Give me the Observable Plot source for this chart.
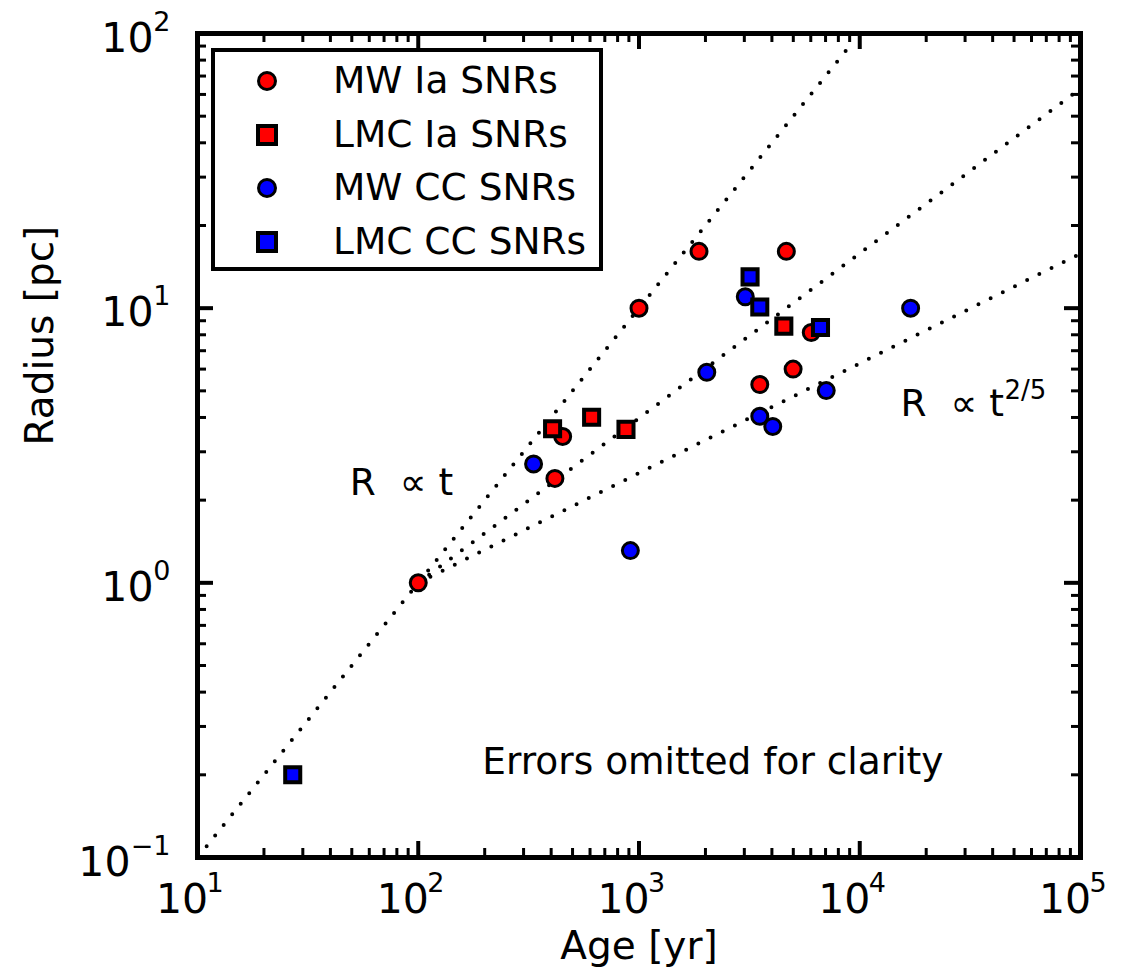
<!DOCTYPE html>
<html><head><meta charset="utf-8">
<script src="https://cdn.jsdelivr.net/npm/d3@7"></script>
<script src="https://cdn.jsdelivr.net/npm/@observablehq/plot@0.6"></script>
<style>
html,body{margin:0;padding:0;background:#fff;}
#wrap{position:relative;width:1128px;height:971px;font-family:"DejaVu Sans",sans-serif;}
#legend{position:absolute;left:211px;top:48px;width:392px;height:223px;box-sizing:border-box;border:4px solid #000;background:#fff;}
.mk{position:absolute;box-sizing:border-box;border-style:solid;border-color:#000;}
.lbl{position:absolute;left:118px;font-size:37.5px;line-height:1;transform:translateY(-50%);white-space:nowrap;color:#000;}
</style></head>
<body><div id="wrap"></div>
<script>
// ---------- data ----------
const mwIaAge    = [100, 1000, 1870, 4650, 451, 416, 6030, 4990, 3525];
const mwIaRadius = [1.0, 10.0, 16.1, 16.1, 3.41, 2.40, 8.15, 6.0, 5.27];
const lmcIaAge    = [406, 610, 873, 4530];
const lmcIaRadius = [3.64, 4.01, 3.62, 8.6];
const mwCCAge    = [333, 914, 3030, 17000, 2028, 7050, 3525, 4036];
const mwCCRadius = [2.71, 1.31, 11.0, 10.0, 5.84, 5.01, 4.04, 3.71];
const lmcCCAge    = [27, 3185, 3525, 6640];
const lmcCCRadius = [0.20, 13.0, 10.1, 8.5];

// guide lines (R ∝ t, R ∝ t^0.6, R ∝ t^2/5)
const lineLinearAge = [11, 9300],   lineLinearRadius = [0.11, 93];
const lineMidAge    = [100, 100000], lineMidRadius   = [1, 63];
const lineSedovAge  = [100, 100000], lineSedovRadius = [1, 15.8];

// ticks
const xMajor = [10, 100, 1000, 10000, 100000];
const xExp   = ["1", "2", "3", "4", "5"];
const yMajor = [0.1, 1, 10, 100];
const yExp   = ["\u22121", "0", "1", "2"];
const xMinor = []; for (let e = 1; e < 5; e++) for (let k = 2; k < 10; k++) xMinor.push(k * 10 ** e);
const yMinor = []; for (let e = -1; e < 2; e++) for (let k = 2; k < 10; k++) yMinor.push(+(k * 10 ** e).toPrecision(3));

// annotations
const noteText = ["R\u00a0 \u221d t", "Errors omitted for clarity"];
const noteAge = [49, 195];
const noteRadius = [2.08, 0.202];
const sedovNote = {label: "R\u00a0 \u221d t", sup: "2/5", age: 15300, radius: 4.06};

const legendLabels = ["MW Ia SNRs", "LMC Ia SNRs", "MW CC SNRs", "LMC CC SNRs"];
const legendColors = ["#ff0000", "#ff0000", "#0000ff", "#0000ff"];
const legendShapes = ["circle", "square", "circle", "square"];

// ---------- layout ----------
const W = 1128, H = 971, ML = 197, MR = 48, MT = 33, MB = 114;
const PW = W - ML - MR, PH = H - MT - MB;
const rec = (a, r) => a.map((v, i) => ({age: v, radius: r[i]}));
const dotted = {x: "age", y: "radius", stroke: "#000", strokeWidth: 4, strokeDasharray: "0 13.6", strokeLinecap: "round"};
const circ = (c) => ({x: "age", y: "radius", r: 8, symbol: "circle", fill: c, stroke: "#000", strokeWidth: 3});
const sq = (c) => ({x: "age", y: "radius", r: 8.5, symbol: "square", fill: c, stroke: "#000", strokeWidth: 4});
const id = d => d;

const chart = Plot.plot({
  width: W, height: H,
  marginLeft: ML, marginRight: MR, marginTop: MT, marginBottom: MB,
  style: {fontFamily: "DejaVu Sans", background: "#fff", color: "#000"},
  x: {type: "log", domain: [10, 100000], axis: null},
  y: {type: "log", domain: [0.1, 100], axis: null},
  marks: [
    Plot.line(rec(lineLinearAge, lineLinearRadius), dotted),
    Plot.line(rec(lineMidAge, lineMidRadius), dotted),
    Plot.line(rec(lineSedovAge, lineSedovRadius), dotted),
    Plot.dot(rec(mwIaAge, mwIaRadius), circ("#ff0000")),
    Plot.dot(rec(lmcIaAge, lmcIaRadius), sq("#ff0000")),
    Plot.dot(rec(mwCCAge, mwCCRadius), circ("#0000ff")),
    Plot.dot(rec(lmcCCAge, lmcCCRadius), sq("#0000ff")),
    // inward ticks, four sides
    Plot.ruleX(xMajor, {x: id, insetTop: PH - 16, stroke: "#000", strokeWidth: 4}),
    Plot.ruleX(xMajor, {x: id, insetBottom: PH - 16, stroke: "#000", strokeWidth: 4}),
    Plot.ruleX(xMinor, {x: id, insetTop: PH - 9, stroke: "#000", strokeWidth: 3}),
    Plot.ruleX(xMinor, {x: id, insetBottom: PH - 9, stroke: "#000", strokeWidth: 3}),
    Plot.ruleY(yMajor, {y: id, insetRight: PW - 16, stroke: "#000", strokeWidth: 4}),
    Plot.ruleY(yMajor, {y: id, insetLeft: PW - 16, stroke: "#000", strokeWidth: 4}),
    Plot.ruleY(yMinor, {y: id, insetRight: PW - 9, stroke: "#000", strokeWidth: 3}),
    Plot.ruleY(yMinor, {y: id, insetLeft: PW - 9, stroke: "#000", strokeWidth: 3}),
    Plot.frame({stroke: "#000", strokeWidth: 5}),
    // x tick labels
    Plot.text(xMajor, {x: id, frameAnchor: "bottom", text: () => "10", textAnchor: "end", lineAnchor: "bottom", dx: 10.6, dy: 55, fontSize: 41, fill: "#000"}),
    Plot.text(xMajor, {x: id, frameAnchor: "bottom", text: (d, i) => xExp[i], textAnchor: "start", lineAnchor: "bottom", dx: 9, dy: 34, fontSize: 27, fill: "#000"}),
    // y tick labels
    Plot.text(yMajor, {y: id, filter: d => d >= 1, frameAnchor: "left", text: () => "10", textAnchor: "end", lineAnchor: "bottom", dx: -44, dy: 18, fontSize: 41, fill: "#000"}),
    Plot.text(yMajor, {y: id, filter: d => d < 1, frameAnchor: "left", text: () => "10", textAnchor: "end", lineAnchor: "bottom", dx: -67, dy: 18, fontSize: 41, fill: "#000"}),
    Plot.text(yMajor, {y: id, frameAnchor: "left", text: (d, i) => yExp[i], textAnchor: "end", lineAnchor: "bottom", dx: -27, dy: -3, fontSize: 27, fill: "#000"}),
    // axis labels
    Plot.text(["Age [yr]"], {frameAnchor: "bottom", text: id, lineAnchor: "bottom", dy: 101, fontSize: 39, fill: "#000"}),
    Plot.text(["Radius [pc]"], {frameAnchor: "left", text: id, rotate: -90, lineAnchor: "bottom", dx: -145, fontSize: 39, fill: "#000"}),
    // annotations
    Plot.text(noteText.map((t, i) => ({t, age: noteAge[i], radius: noteRadius[i]})), {x: "age", y: "radius", text: "t", textAnchor: "start", lineAnchor: "bottom", fontSize: 37.5, fill: "#000"}),
    Plot.text([sedovNote], {x: "age", y: "radius", text: "label", textAnchor: "start", lineAnchor: "bottom", fontSize: 37.5, fill: "#000"}),
    Plot.text([sedovNote], {x: "age", y: "radius", text: "sup", textAnchor: "start", lineAnchor: "bottom", dx: 104, dy: -17, fontSize: 26, fill: "#000"})
  ]
});

const wrap = document.getElementById("wrap");
wrap.appendChild(chart);

// legend (inside axes, upper left)
const lg = document.createElement("div");
lg.id = "legend";
const rowY = [29, 83, 136, 190];
legendLabels.forEach((lab, i) => {
  const m = document.createElement("div");
  m.className = "mk";
  if (legendShapes[i] === "circle") {
    Object.assign(m.style, {width: "20px", height: "20px", left: "42px", top: (rowY[i] - 10) + "px", borderWidth: "3px", borderRadius: "50%", background: legendColors[i]});
  } else {
    Object.assign(m.style, {width: "22px", height: "22px", left: "41px", top: (rowY[i] - 11) + "px", borderWidth: "4px", background: legendColors[i]});
  }
  lg.appendChild(m);
  const t = document.createElement("div");
  t.className = "lbl";
  t.style.top = rowY[i] + "px";
  t.textContent = lab;
  lg.appendChild(t);
});
wrap.appendChild(lg);
</script></body></html>
